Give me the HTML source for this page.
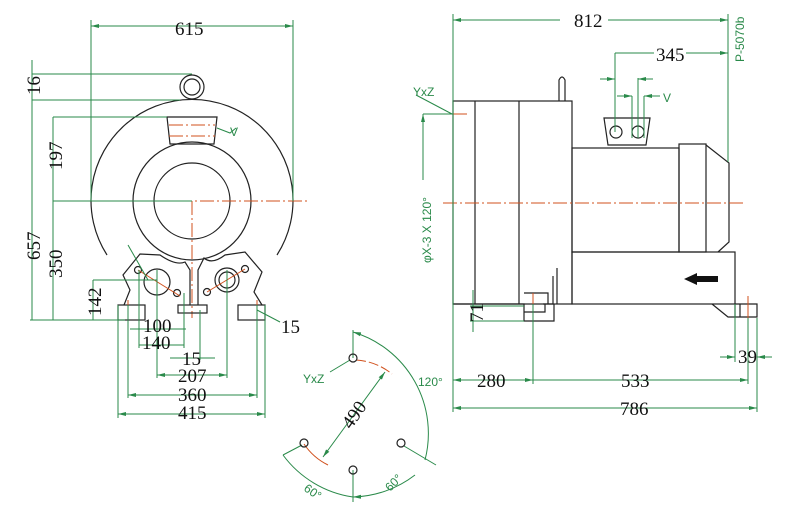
<!DOCTYPE html>
<html><head><meta charset="utf-8"><style>
html,body{margin:0;padding:0;background:#fff}
svg{display:block}
.k{stroke:#222;fill:none;stroke-width:1.2}
.g{stroke:#2a8a4a;fill:none;stroke-width:1}
.r{stroke:#d0501c;fill:none;stroke-width:1;stroke-dasharray:14 3 2 3}
.t{font-family:"Liberation Serif",serif;font-size:19px;fill:#111}
.gt{font-family:"Liberation Sans",sans-serif;font-size:12px;fill:#2a8a4a}
</style></head><body>
<svg width="788" height="520" viewBox="0 0 788 520" xmlns="http://www.w3.org/2000/svg">
<defs><marker id="a" markerWidth="8" markerHeight="6" refX="8" refY="3" orient="auto-start-reverse"><path d="M0,1 L8,3 L0,5z" fill="#2a8a4a"/></marker></defs>
<!-- LEFT VIEW -->
<path class="k" d="M107,255 A101,101 0 1 1 277,255"/>
<circle class="k" cx="192" cy="201" r="59"/>
<circle class="k" cx="192" cy="201" r="38"/>
<circle class="k" cx="192" cy="87" r="12"/>
<circle class="k" cx="192" cy="87" r="8"/>
<path class="k" d="M167,117 L217,117 L214,144 L170,144 Z"/>
<line class="r" x1="169" y1="125" x2="215" y2="125"/><line class="r" x1="169" y1="136" x2="215" y2="136"/>
<line class="r" x1="90" y1="201" x2="310" y2="201"/>
<line class="r" x1="192" y1="201" x2="192" y2="318"/>
<path class="k" d="M124,305 L130,290 L123,275 L140,254 L160,255 Q176,266 185,262 L190,270 L190,305"/>
<path class="k" d="M198,305 L198,270 L204,258 Q212,265 225,255 L245,252 L262,272 L254,292 L262,305"/>
<circle class="k" cx="157" cy="282" r="13"/><circle class="k" cx="227" cy="280" r="12"/><circle class="k" cx="227" cy="280" r="8"/>
<circle class="k" cx="138" cy="270" r="3.5"/><circle class="k" cx="177" cy="293" r="3.5"/>
<circle class="k" cx="207" cy="292" r="3.5"/><circle class="k" cx="245" cy="269" r="3.5"/>
<line x1="138" y1="270" x2="180" y2="296" stroke="#d0501c"/><line x1="207" y1="292" x2="245" y2="269" stroke="#d0501c"/>
<rect class="k" x="118" y="305" width="27" height="15"/><rect class="k" x="178" y="305" width="29" height="8"/><rect class="k" x="238" y="305" width="27" height="15"/>
<line x1="128" y1="300" x2="128" y2="322" stroke="#d0501c"/><line x1="257" y1="300" x2="257" y2="322" stroke="#d0501c"/>
<g class="g">
<line x1="91" y1="26" x2="293" y2="26" marker-start="url(#a)" marker-end="url(#a)"/>
<line x1="91" y1="20" x2="91" y2="201"/><line x1="293" y1="20" x2="293" y2="201"/>
<line x1="32" y1="74" x2="192" y2="74"/><line x1="32" y1="100" x2="180" y2="100"/>
<line x1="32" y1="60" x2="32" y2="320"/><line x1="53" y1="117" x2="167" y2="117"/>
<line x1="53" y1="117" x2="53" y2="320"/><line x1="53" y1="201" x2="192" y2="201"/>
<line x1="30" y1="320" x2="125" y2="320"/><line x1="93" y1="280" x2="157" y2="280"/><line x1="93" y1="280" x2="93" y2="320"/>
<line x1="118" y1="305" x2="118" y2="418"/><line x1="265" y1="305" x2="265" y2="418"/>
<line x1="128" y1="305" x2="128" y2="398"/><line x1="257" y1="305" x2="257" y2="398"/>
<line x1="139" y1="270" x2="139" y2="348"/><line x1="184" y1="293" x2="184" y2="348"/>
<line x1="157" y1="270" x2="157" y2="378"/><line x1="227" y1="270" x2="227" y2="378"/>
<line x1="200" y1="310" x2="200" y2="360"/>
<line x1="118" y1="414" x2="265" y2="414" marker-start="url(#a)" marker-end="url(#a)"/>
<line x1="128" y1="395" x2="257" y2="395" marker-start="url(#a)" marker-end="url(#a)"/>
<line x1="157" y1="375" x2="227" y2="375" marker-start="url(#a)" marker-end="url(#a)"/>
<line x1="170" y1="358" x2="215" y2="358"/>
<line x1="139" y1="345" x2="184" y2="345"/><line x1="130" y1="329" x2="186" y2="329"/>
<line x1="257" y1="310" x2="280" y2="322"/>
<line x1="128" y1="245" x2="148" y2="280"/>
<path d="M217,128 L230,133 L236,128"/>
</g>
<text class="t" x="175" y="35">615</text>
<text class="t" transform="translate(40,95) rotate(-90)">16</text>
<text class="t" transform="translate(62,170) rotate(-90)">197</text>
<text class="t" transform="translate(40,260) rotate(-90)">657</text>
<text class="t" transform="translate(62,278) rotate(-90)">350</text>
<text class="t" transform="translate(101,316) rotate(-90)">142</text>
<text class="t" x="143" y="332">100</text><text class="t" x="142" y="349">140</text>
<text class="t" x="182" y="365">15</text><text class="t" x="178" y="382">207</text>
<text class="t" x="178" y="401">360</text><text class="t" x="178" y="419">415</text>
<text class="t" x="281" y="333">15</text>
<text class="gt" x="230" y="136">V</text>
<!-- BOTTOM CIRCLE -->
<path d="M356,360 A62,62 0 0 1 392,374" stroke="#d0501c" fill="none" stroke-dasharray="10 3"/>
<path d="M304,444 A62,62 0 0 0 328,465" stroke="#d0501c" fill="none"/>
<g class="g">
<path d="M353,332 A106,106 0 0 1 425,460" marker-start="url(#a)"/>
<path d="M415,475 A106,106 0 0 1 353,497" marker-end="url(#a)"/>
<path d="M283,455 A106,106 0 0 0 353,497"/>
<line x1="353" y1="330" x2="353" y2="358"/><line x1="353" y1="470" x2="353" y2="502"/>
<line x1="330" y1="372" x2="350" y2="360"/><line x1="283" y1="455" x2="302" y2="445"/>
<line x1="404" y1="446" x2="436" y2="465"/>
<line x1="385" y1="372" x2="323" y2="457" marker-start="url(#a)" marker-end="url(#a)"/>
</g>
<circle class="k" cx="353" cy="358" r="4"/><circle class="k" cx="304" cy="443" r="4"/><circle class="k" cx="401" cy="443" r="4"/><circle class="k" cx="353" cy="470" r="4"/>
<text class="t" transform="translate(351,430) rotate(-55)">490</text>
<text class="gt" x="303" y="383">YxZ</text>
<text class="gt" x="418" y="386">120°</text>
<text class="gt" transform="translate(303,490) rotate(35)">60°</text>
<text class="gt" transform="translate(390,492) rotate(-45)">60°</text>
<!-- RIGHT VIEW -->
<rect class="k" x="453" y="101" width="119" height="203"/>
<line class="k" x1="475" y1="101" x2="475" y2="304"/><line class="k" x1="519" y1="101" x2="519" y2="304"/>
<path class="k" d="M559,101 L559,80 Q562,74 565,80 L565,101"/>
<rect class="k" x="572" y="148" width="107" height="104"/>
<rect class="k" x="679" y="144" width="27" height="108"/>
<path class="k" d="M706,145 L729,163 L729,242 L718,252"/>
<rect class="k" x="572" y="252" width="163" height="52"/>
<path class="k" d="M604,118 L650,118 L646,145 L608,145 Z"/>
<circle class="k" cx="616" cy="132" r="6"/><circle class="k" cx="638" cy="132" r="6"/>
<path d="M684,279 L697,273 L697,276 L718,276 L718,282 L697,282 L697,285 Z" fill="#111"/>
<path class="k" d="M557,268 L557,304 M553,276 L553,304 L543,304"/>
<path class="k" d="M453,304 L524,304 L524,321 L554,321 L554,304 M524,312 L545,312 L545,304 M524,293 L548,293 L548,304"/>
<path class="k" d="M712,304 L728,317 L757,317 L757,304 L735,304 M735,304 L735,317 M740,304 L740,317"/>
<line x1="533" y1="293" x2="533" y2="304" stroke="#d0501c"/><line x1="748" y1="296" x2="748" y2="320" stroke="#d0501c"/>
<line class="r" x1="443" y1="203" x2="745" y2="203"/>
<line class="r" x1="453" y1="114" x2="470" y2="114"/>
<g class="g">
<line x1="453" y1="20" x2="728" y2="20" marker-start="url(#a)" marker-end="url(#a)"/>
<line x1="453" y1="14" x2="453" y2="412"/><line x1="728" y1="14" x2="728" y2="162"/>
<line x1="615" y1="53" x2="728" y2="53" marker-end="url(#a)"/><line x1="615" y1="53" x2="615" y2="132"/>
<line x1="638" y1="78" x2="638" y2="138"/><line x1="632" y1="96" x2="632" y2="138"/><line x1="644" y1="96" x2="644" y2="138"/>
<line x1="600" y1="79" x2="615" y2="79" marker-end="url(#a)"/><line x1="653" y1="79" x2="638" y2="79" marker-end="url(#a)"/>
<line x1="617" y1="96" x2="632" y2="96" marker-end="url(#a)"/><line x1="660" y1="96" x2="644" y2="96" marker-end="url(#a)"/>
<line x1="423" y1="114" x2="453" y2="114"/><line x1="423" y1="114" x2="423" y2="180" marker-start="url(#a)"/>
<line x1="416" y1="95" x2="452" y2="114"/>
<line x1="473" y1="290" x2="473" y2="332"/><line x1="470" y1="306" x2="524" y2="306"/><line x1="470" y1="321" x2="524" y2="321"/>
<line x1="533" y1="304" x2="533" y2="384"/><line x1="735" y1="304" x2="735" y2="362"/>
<line x1="748" y1="318" x2="748" y2="384"/><line x1="757" y1="318" x2="757" y2="412"/>
<line x1="453" y1="380" x2="533" y2="380" marker-start="url(#a)" marker-end="url(#a)"/>
<line x1="533" y1="380" x2="748" y2="380" marker-end="url(#a)"/>
<line x1="453" y1="408" x2="757" y2="408" marker-start="url(#a)" marker-end="url(#a)"/>
<line x1="720" y1="357" x2="735" y2="357" marker-end="url(#a)"/><line x1="772" y1="357" x2="757" y2="357" marker-end="url(#a)"/>
</g>
<rect x="560" y="10" width="48" height="20" fill="#fff"/><text class="t" x="574" y="27">812</text>
<rect x="654" y="44" width="32" height="18" fill="#fff"/><text class="t" x="656" y="61">345</text>
<text class="t" x="477" y="387">280</text><text class="t" x="621" y="387">533</text>
<text class="t" x="620" y="415">786</text><text class="t" x="738" y="363">39</text>
<text class="t" transform="translate(483,322) rotate(-90)">71</text>
<text class="gt" x="663" y="102">V</text>
<text class="gt" x="413" y="96">YxZ</text>
<text class="gt" transform="translate(431,263) rotate(-90)">φX-3 X 120°</text>
<text class="gt" transform="translate(744,62) rotate(-90)">P-5070b</text>
</svg>
</body></html>
